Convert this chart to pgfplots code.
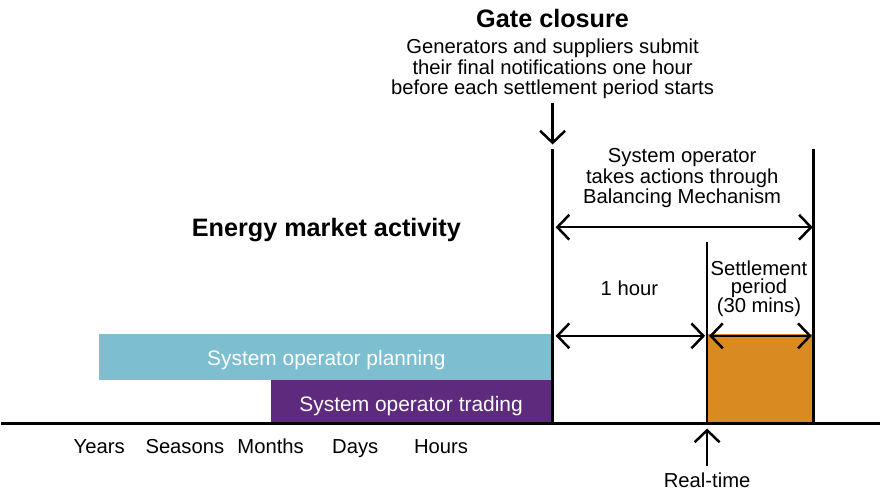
\documentclass[border=0pt]{standalone}
\usepackage{pgfplots}
\pgfplotsset{compat=1.18}
\usepackage{fontspec}
\setmainfont{Liberation Sans}
\usetikzlibrary{arrows.meta}
\definecolor{cblue}{HTML}{7DBFD0}
\definecolor{cpurple}{HTML}{5E2A7E}
\definecolor{corange}{HTML}{D98A20}
\begin{document}
\begin{tikzpicture}[x=1pt,y=1pt,font=\fontsize{20.3}{23}\selectfont]
\begin{axis}[
  width=881pt, height=492pt, scale only axis,
  xmin=0, xmax=881, ymin=0, ymax=492,
  axis lines=none, clip=false,
  tip/.style={-{Straight Barb[length=12pt,width=25pt,line width=2.5pt]}},
  dtip/.style={{Straight Barb[length=12pt,width=25pt,line width=2.5pt]}-{Straight Barb[length=12pt,width=25pt,line width=2.5pt]}},
]
\path (axis cs:0,0) rectangle (axis cs:881,492);
% bars
\addplot[fill=cblue, draw=none] coordinates {(98,111) (553,111) (553,157) (98,157)} -- cycle;
\addplot[fill=cpurple, draw=none] coordinates {(270,67) (553,67) (553,111) (270,111)} -- cycle;
\addplot[fill=corange, draw=none] coordinates {(708,67) (815,67) (815,157) (708,157)} -- cycle;
% baseline and verticals
\addplot[black, line width=3pt] coordinates {(0,67) (881,67)};
\addplot[black, line width=2.5pt] coordinates {(553,67) (553,342)};
\addplot[black, line width=2.5pt] coordinates {(708,67) (708,249)};
\addplot[black, line width=2.5pt] coordinates {(815,67) (815,342)};
% arrows
\addplot[black, line width=2.5pt, tip] coordinates {(553,389) (553,347)};
\addplot[black, line width=2.5pt, tip] coordinates {(708,24) (708,62)};
\addplot[black, line width=2.5pt, dtip] coordinates {(556,264) (814,264)};
\addplot[black, line width=2.5pt, dtip] coordinates {(556,155) (706,155)};
\addplot[black, line width=2.5pt, dtip] coordinates {(710,155) (813,155)};
% texts
\node[anchor=base,font=\fontsize{25.3}{28}\selectfont\bfseries] at (axis cs:553,464) {Gate closure};
\node[anchor=base] at (axis cs:553,438) {Generators and suppliers submit};
\node[anchor=base] at (axis cs:553,417) {their final notifications one hour};
\node[anchor=base] at (axis cs:553,397) {before each settlement period starts};
\node[anchor=base,font=\fontsize{25.3}{28}\selectfont\bfseries] at (axis cs:326,255) {Energy market activity};
\node[anchor=base] at (axis cs:683,329) {System operator};
\node[anchor=base] at (axis cs:683,308) {takes actions through};
\node[anchor=base] at (axis cs:683,288) {Balancing Mechanism};
\node[anchor=base] at (axis cs:630,195) {1 hour};
\node[anchor=base] at (axis cs:760,216) {Settlement};
\node[anchor=base] at (axis cs:760,197) {period};
\node[anchor=base] at (axis cs:760,178) {(30 mins)};
\node[anchor=base,text=white,font=\fontsize{21}{24}\selectfont] at (axis cs:326,125) {System operator planning};
\node[anchor=base,text=white,font=\fontsize{21}{24}\selectfont] at (axis cs:411,79) {System operator trading};
\node[anchor=base] at (axis cs:98,37) {Years};
\node[anchor=base] at (axis cs:184,37) {Seasons};
\node[anchor=base] at (axis cs:270,37) {Months};
\node[anchor=base] at (axis cs:355,37) {Days};
\node[anchor=base] at (axis cs:441,37) {Hours};
\node[anchor=base] at (axis cs:708,3) {Real-time};
\end{axis}
\end{tikzpicture}
\end{document}
